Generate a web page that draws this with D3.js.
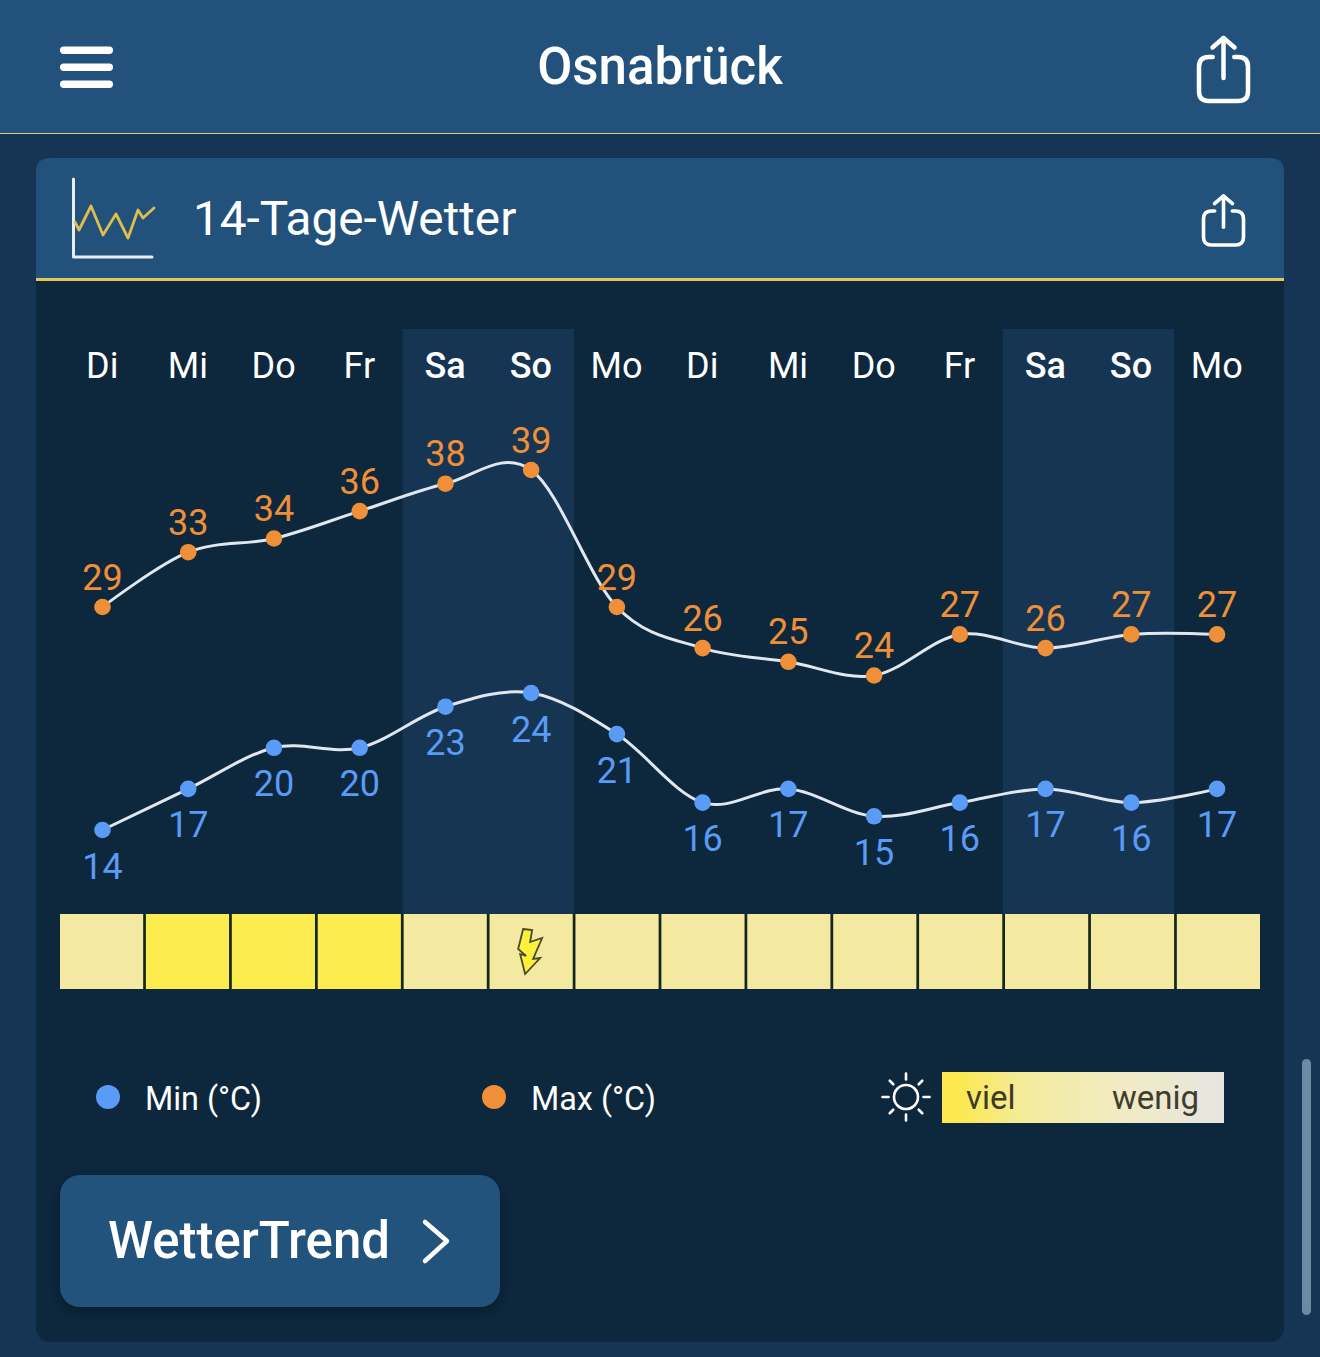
<!DOCTYPE html>
<html lang="de">
<head>
<meta charset="utf-8">
<script src="https://cdn.jsdelivr.net/npm/d3@7"></script>
<style>
html,body{margin:0;padding:0;background:#163555;overflow:hidden}
svg{display:block}
text{font-family:Roboto,sans-serif}
</style>
</head>
<body>
<svg id="chart" width="1320" height="1357"></svg>
<script>
const days = ["Di","Mi","Do","Fr","Sa","So","Mo","Di","Mi","Do","Fr","Sa","So","Mo"];
const maxTemps = [29,33,34,36,38,39,29,26,25,24,27,26,27,27];
const minTemps = [14,17,20,20,23,24,21,16,17,15,16,17,16,17];
const sunshine = ["mid","high","high","high","mid","mid","mid","mid","mid","mid","mid","mid","mid","mid"];
const thunderDays = [5];
const weekendDays = [4,5,11,12];

const colors = {
  page:"#163555", bar:"#22527c", body:"#0d273d", band:"#163553", gold:"#e0c65c",
  max:"#ef8f38", min:"#5a9bf5", line:"#e0e7ef", high:"#fcec50", mid:"#f3e9a0", white:"#ffffff"
};

const svg = d3.select("#chart");
const defs = svg.append("defs");
const shadow = defs.append("filter").attr("id","soft").attr("x","-10%").attr("y","-20%").attr("width","120%").attr("height","150%");
shadow.append("feDropShadow").attr("dx",0).attr("dy",5).attr("stdDeviation",7).attr("flood-color","#000").attr("flood-opacity",.28);
const grad = defs.append("linearGradient").attr("id","sunGrad");
[[0,"#fbe94f"],[.06,"#fbe94f"],[.3,"#f4eb9f"],[.65,"#f0ebc4"],[1,"#e6e5e2"]].forEach(([o,c])=>
  grad.append("stop").attr("offset",o).attr("stop-color",c));

const iconStroke = (g,w,c=colors.white)=>g.attr("fill","none").attr("stroke",c).attr("stroke-width",w)
  .attr("stroke-linecap","round").attr("stroke-linejoin","round");

// App bar
svg.append("rect").attr("width",1320).attr("height",133).attr("fill",colors.bar);
svg.append("rect").attr("y",133).attr("width",1320).attr("height",1).attr("fill","#e0cf72");
[50,67,84].forEach(y=>svg.append("rect").attr("x",60).attr("y",y-3.5).attr("width",53).attr("height",7.5).attr("rx",3.7).attr("fill",colors.white));
svg.append("text").attr("x",660).attr("y",84).attr("text-anchor","middle").attr("font-size",51).attr("font-weight",500)
  .attr("fill",colors.white).text("Osnabrück");

function shareIcon(cx,top,w,h,boxTop,sw,head){
  const g = iconStroke(svg.append("g"),sw);
  const l=cx-w/2,r=cx+w/2,b=top+h,rad=w*.2,gap=w*.22;
  g.append("path").attr("d",`M${cx-gap} ${boxTop}H${l+rad}Q${l} ${boxTop} ${l} ${boxTop+rad}V${b-rad}Q${l} ${b} ${l+rad} ${b}H${r-rad}Q${r} ${b} ${r} ${b-rad}V${boxTop+rad}Q${r} ${boxTop} ${r-rad} ${boxTop}H${cx+gap}`);
  g.append("path").attr("d",`M${cx} ${top+1}V${boxTop+(b-boxTop)*.48}`);
  g.append("path").attr("d",`M${cx-head} ${top+head*.95}L${cx} ${top+1}L${cx+head} ${top+head*.95}`);
}
shareIcon(1223.5,37,49,64,57,4.5,11);

// Card
svg.append("rect").attr("x",36).attr("y",158).attr("width",1248).attr("height",1184).attr("rx",14).attr("fill",colors.body);
svg.append("path").attr("d","M36 278V172Q36 158 50 158H1270Q1284 158 1284 172V278Z").attr("fill",colors.bar);
svg.append("rect").attr("x",36).attr("y",278).attr("width",1248).attr("height",3).attr("fill",colors.gold);

// Card title icon
iconStroke(svg.append("path"),3,"#e8eef4").attr("d","M73.5 179V257H152");
iconStroke(svg.append("path"),2.8,"#e0bd4c").attr("d","M75 222L79 230L91 206L103 235L116 214L128 238L138 210L143 218L154 208");
svg.append("text").attr("x",193).attr("y",235).attr("font-size",47.7).attr("fill",colors.white).text("14-Tage-Wetter");
shareIcon(1223.5,195,40,50,211,3.6,9);

// Chart scales: the two series sit on separate vertical scales
const x = d3.scalePoint().domain(d3.range(days.length)).range([102.5,1217]);
const yMax = d3.scaleLinear().domain([24,39]).range([675.5,470]);
const yMin = d3.scaleLinear().domain([14,24]).range([830,693]);
const step = x.step();
const strip = d3.scaleBand().domain(d3.range(days.length)).range([60,1260]).paddingInner(.032);

// Weekend bands
weekendDays.filter((d,i)=>i%2===0).forEach(d=>{
  svg.append("rect").attr("x",x(d)-step/2).attr("y",329).attr("width",step*2).attr("height",585).attr("fill",colors.band);
});

// Day labels
svg.append("g").selectAll("text").data(days).join("text")
  .attr("x",(d,i)=>x(i)-.3).attr("y",378).attr("text-anchor","middle").attr("font-size",36)
  .attr("font-weight",(d,i)=>weekendDays.includes(i)?500:400).attr("fill",colors.white).text(d=>d);

const seriesLine = y => d3.line().x((d,i)=>x(i)).y(d=>y(d)).curve(d3.curveCardinal.tension(0));

function drawSeries(values,y,color,labelDy){
  svg.append("path").datum(values).attr("d",seriesLine(y)).attr("fill","none").attr("stroke",colors.line).attr("stroke-width",3);
  svg.append("g").selectAll("circle").data(values).join("circle")
    .attr("cx",(d,i)=>x(i)).attr("cy",d=>y(d)).attr("r",8.3).attr("fill",color);
  svg.append("g").selectAll("text").data(values).join("text")
    .attr("x",(d,i)=>x(i)).attr("y",d=>y(d)+labelDy).attr("text-anchor","middle").attr("font-size",36)
    .attr("fill",color).text(d=>d);
}
drawSeries(maxTemps,yMax,colors.max,-17.5);
drawSeries(minTemps,yMin,colors.min,48.5);

// Sunshine strip
svg.append("rect").attr("x",60).attr("y",914).attr("width",1200).attr("height",75).attr("fill","#14281f");
svg.append("g").selectAll("rect").data(sunshine).join("rect")
  .attr("x",(d,i)=>strip(i)).attr("y",914).attr("width",strip.bandwidth()).attr("height",75)
  .attr("fill",d=>d==="high"?colors.high:colors.mid);

// Thunderstorm marker
svg.append("g").selectAll("path").data(thunderDays).join("path")
  .attr("transform",d=>`translate(${strip(d)+strip.bandwidth()/2},951)`)
  .attr("d","M-8 -22L1 -21L-1 -9L11 -13L2 8L9 7L-6 23L-11 3L-5 5L-13 -2Z")
  .attr("fill","#fbf03c").attr("stroke","#4a4a28").attr("stroke-width",1.8).attr("stroke-linejoin","miter");

// Legend
svg.append("circle").attr("cx",108).attr("cy",1097).attr("r",12).attr("fill",colors.min);
svg.append("text").attr("x",145).attr("y",1110).attr("font-size",34).attr("textLength",117).attr("lengthAdjust","spacingAndGlyphs").attr("fill",colors.white).text("Min (°C)");
svg.append("circle").attr("cx",494).attr("cy",1097).attr("r",12).attr("fill",colors.max);
svg.append("text").attr("x",531).attr("y",1110).attr("font-size",34).attr("textLength",125).attr("lengthAdjust","spacingAndGlyphs").attr("fill",colors.white).text("Max (°C)");

const sun = iconStroke(svg.append("g").attr("transform","translate(906,1097)"),2.6);
sun.append("circle").attr("r",12);
d3.range(8).forEach(i=>{
  const a=i*Math.PI/4, r1=i%2?18:17.5, r2=i%2?23:23.5;
  sun.append("line").attr("x1",r1*Math.cos(a)).attr("y1",r1*Math.sin(a)).attr("x2",r2*Math.cos(a)).attr("y2",r2*Math.sin(a));
});
svg.append("rect").attr("x",942).attr("y",1072).attr("width",282).attr("height",51).attr("fill","url(#sunGrad)");
svg.append("text").attr("x",966).attr("y",1109).attr("font-size",33).attr("fill","#3d3a28").text("viel");
svg.append("text").attr("x",1112).attr("y",1109).attr("font-size",33).attr("fill","#3f3d30").text("wenig");

// Link button
svg.append("rect").attr("x",60).attr("y",1175).attr("width",440).attr("height",132).attr("rx",20).attr("fill",colors.bar).attr("filter","url(#soft)");
svg.append("text").attr("x",108).attr("y",1258).attr("font-size",51).attr("font-weight",500).attr("fill",colors.white).text("WetterTrend");
iconStroke(svg.append("path"),4.5).attr("d","M425 1222L447 1241L425 1261");

// Scroll indicator
svg.append("rect").attr("x",1302).attr("y",1059).attr("width",9).attr("height",256).attr("rx",4.5).attr("fill","#6c8aa4");
</script>
</body>
</html>
